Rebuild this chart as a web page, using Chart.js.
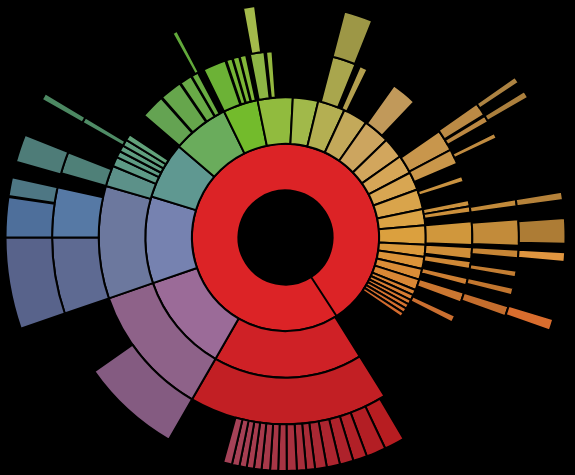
<!DOCTYPE html>
<html>
<head>
<meta charset="utf-8">
<style>
  html, body { margin: 0; padding: 0; background: #000; }
  #wrap { width: 575px; height: 475px; }
</style>
<script src="https://cdn.jsdelivr.net/npm/chart.js@4.4.1/dist/chart.umd.min.js"></script>
</head>
<body>
<div id="wrap"><canvas id="c" width="575" height="475"></canvas></div>
<script>
// Sunburst data: each level lists node arcs (start / end angle in degrees, clockwise from top,
// continuing past 360 after the seam at 147°).
const seamAngle = 147;

const level1From = [147];
const level1To = [507];
const level1Colors = ['#dc2326'];

const level2From = [148,210,251,287,310.5,334,348.5,363,373.5,384.8,395,406,414.7,422.5,430,438.3,445,453,458,463,467.5,472,474.3,476.5,478.5,480.5,482.5];
const level2To   = [210,251,287,310.5,334,348.5,363,373.5,384.8,395,406,414.7,422.5,430,438.3,445,453,458,463,467.5,472,474.3,476.5,478.5,480.5,482.5,484.5];
const level2Colors = ['#cf2126','#9b6b98','#7682b0','#5f9891','#6aac5c','#73bb2c','#91bb3e','#a1b94a','#b4af52','#c3a95a','#cca55f','#d2a65d','#d6a657','#d8a652','#d9a44b','#dba345','#dba03e','#db9a3b','#db9439','#da8d37','#d98735','#d88133','#d77c32','#d67731','#d57330','#d46f2f','#d36b2e'];

const level3From = [148,210,251,286,292.5,295.5,297.5,299.5,301.5,310.8,318.6,325.8,329.8,334,341.5,343.6,345.8,349,354,374.6,383.5,395.5,415.3,422,430.8,438.4,440.4,445,453,457.3,462.6,467.2,474.8];
const level3To   = [210,251,286,292.5,295.5,297.5,299.5,301.5,303.5,318.3,325.5,329.6,332,341.2,343.4,345.6,347.8,353.5,356,382,386,403.5,422,426.7,432.6,440.4,442.3,452.3,456.7,459.7,464.8,470.3,477];
const level3Colors = ['#c21f24','#8e6289','#6c789e','#5c9189','#5e9a86','#5f9c84','#5f9e81','#60a07e','#62a27b','#64a352','#66a64c','#69aa47','#6aad42','#6cb236','#75b535','#7bb636','#82b739','#8db545','#94b83f','#a9a64d','#b4a04f','#c1995a','#c8964c','#ca974a','#c99240','#cb923e','#cc903c','#d0973c','#d08e38','#cf8836','#cd7f33','#cb7731','#ca6f30'];

const level4From = [149.6,154.7,159.6,163.1,166.5,169.8,172.7,174.9,177.2,179.7,181.8,183.8,185.9,187.8,189.6,191.4,193.3,210,251,270,286,299.5,331,349.5,374.6,415,418.6,423.4,440.6,445.5,453,458.2,462.5,467.2];
const level4To   = [154.7,159.6,163.1,166.5,169.8,172.7,174.9,177.2,179.7,181.8,183.8,185.9,187.8,189.6,191.4,193.3,195.5,235,270,282.4,291.4,301,332.3,352.5,381.8,418.3,420.3,424.8,442.3,452,455.1,459.8,464.3,469.7];
const level4Colors = ['#b71d21','#b31e24','#b12027','#ae222b','#ac252f','#aa2833','#a92b37','#a82e3b','#a8313f','#a83443','#a83646','#a73849','#a73a4c','#a73c4f','#a63e52','#a64055','#a54258',
                      '#845b81','#5e6a92','#5679a5','#4f8078','#4f8c66','#62a93b','#a4ba4b','#9d9746','#bb8a45','#bc8842','#c08b40','#c28a3a','#c28b3a','#c68535','#c47e33','#c2762f','#c46d2d'];

const level5From = [251,270,278.5,285.7,299.5,415,418.5,440.6,446,453,467];
const level5To   = [270,278.3,282.4,291.5,301,416.4,420,442.3,451.3,455,469.4];
const level5Colors = ['#58638b','#4e6f9b','#4e7784','#4e7c78','#4c8862','#ad8342','#ab7f3d','#b5823a','#ad7c35','#e09640','#d96d2e'];

function buildRing(from, to, colors) {
  const data = [], bg = [], bw = [];
  let cur = seamAngle;
  for (let i = 0; i < from.length; i++) {
    if (from[i] > cur + 1e-6) {
      data.push(from[i] - cur); bg.push('rgba(0,0,0,0)'); bw.push(0);
    }
    data.push(to[i] - from[i]); bg.push(colors[i]); bw.push(2);
    cur = to[i];
  }
  if (cur < seamAngle + 360 - 1e-6) {
    data.push(seamAngle + 360 - cur); bg.push('rgba(0,0,0,0)'); bw.push(0);
  }
  return { data, backgroundColor: bg, borderWidth: bw, borderColor: '#000000', hoverOffset: 0 };
}

const datasets = [
  buildRing(level5From, level5To, level5Colors),
  buildRing(level4From, level4To, level4Colors),
  buildRing(level3From, level3To, level3Colors),
  buildRing(level2From, level2To, level2Colors),
  buildRing(level1From, level1To, level1Colors)
];

new Chart(document.getElementById('c'), {
  type: 'doughnut',
  data: { datasets },
  options: {
    responsive: false,
    animation: false,
    events: [],
    rotation: seamAngle,
    cutout: '16.8%',
    radius: 280,
    layout: { padding: { right: 4 } },
    plugins: { legend: { display: false }, tooltip: { enabled: false } }
  }
});
</script>
</body>
</html>
